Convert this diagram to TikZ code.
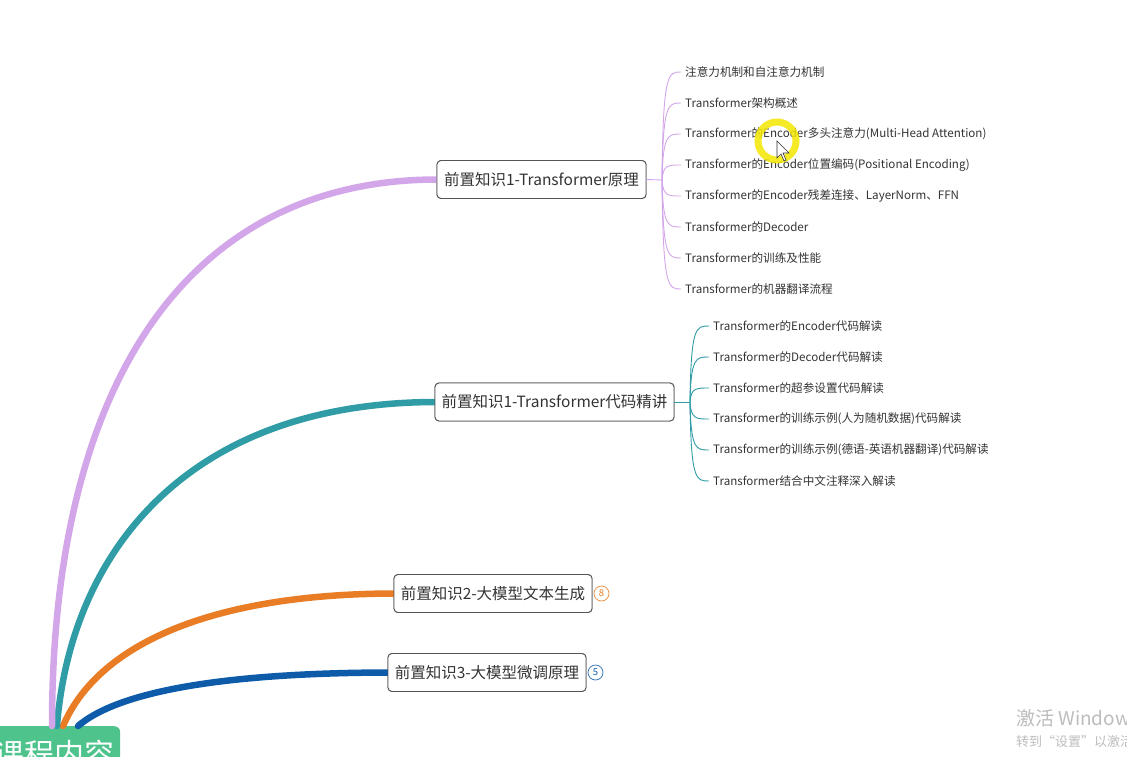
\documentclass[tikz,border=0pt]{standalone}
\usepackage{fontspec}
\setmainfont{Noto Sans CJK SC}
\definecolor{cPurple}{HTML}{D3A6EA}
\definecolor{cTeal}{HTML}{2F9CA6}
\definecolor{cOrange}{HTML}{E87D26}
\definecolor{cBlue}{HTML}{0E5BAA}
\definecolor{cGreen}{HTML}{4EC48C}
\definecolor{cText}{HTML}{333333}
\definecolor{cBorder}{HTML}{555555}
\definecolor{cWater}{HTML}{BDBDBD}
\begin{document}
\begin{tikzpicture}[x=1pt,y=-1pt,
  topic/.style={draw=cBorder, line width=0.9pt, rounded corners=4pt, fill=white,
    font=\fontsize{15.5}{18}\selectfont, text=cText, minimum height=38pt, inner sep=0pt},
  sub/.style={anchor=west, font=\fontsize{11.6}{14}\selectfont, text=cText, inner xsep=4pt, inner ysep=1pt},
  mainline/.style={line width=6.5pt, line cap=round},
  twig/.style={line width=0.9pt},
  badge/.style={circle, draw, line width=0.8pt, minimum size=15pt, inner sep=0pt, font=\fontsize{9.5}{10}\selectfont}]
\useasboundingbox (0,0) rectangle (1127,757);
\clip (0,0) rectangle (1127,757);
\fill[white] (0,0) rectangle (1127,757);

% root
\node[fill=cGreen, rounded corners=6pt, minimum width=140pt, minimum height=70pt, anchor=north west, inner sep=0pt] (root) at (-20,726) {};
\node[anchor=north west, text=white, font=\fontsize{30}{32}\selectfont, inner sep=0pt] (roottxt) at (-6,740) {课程内容};
\coordinate (sA) at (52,726);
\coordinate (sB) at (57,726);
\coordinate (sC) at (63,726);
\coordinate (sD) at (78,726);

% topics (positions)
\node[topic, minimum width=209pt] (A) at (541.5,179.5) {前置知识1-Transformer原理};
\node[topic, minimum width=239pt] (B) at (554.5,402) {前置知识1-Transformer代码精讲};
\node[topic, minimum width=198pt] (C) at (493,593.5) {前置知识2-大模型文本生成};
\node[topic, minimum width=198pt] (D) at (487,672.5) {前置知识3-大模型微调原理};
\node[badge, draw=cOrange!80, text=cOrange] (bC) at (601.5,593.5) {8};
\node[badge, draw=cBlue!80, text=cBlue] (bD) at (595.5,672.5) {5};

% main branches
\draw[mainline, cBlue] (sD) .. controls (120,690) and (230,673) .. (D.west);
\draw[mainline, cOrange] (sC) .. controls (100,640) and (220,594) .. (C.west);
\draw[mainline, cTeal] (sB) .. controls (70,560) and (180,403) .. (B.west);
\draw[mainline, cPurple] (sA) .. controls (52,380) and (190,180) .. (A.west);
% redraw topics on top of line ends
\node[topic, minimum width=209pt] at (541.5,179.5) {前置知识1-Transformer原理};
\node[topic, minimum width=239pt] at (554.5,402) {前置知识1-Transformer代码精讲};
\node[topic, minimum width=198pt] at (493,593.5) {前置知识2-大模型文本生成};
\node[topic, minimum width=198pt] at (487,672.5) {前置知识3-大模型微调原理};

% children of A
\coordinate (jA) at (662,180);
\draw[twig, cPurple] (A.east) -- (jA);
\foreach \y/\t [count=\i] in {
  72/注意力机制和自注意力机制,
  103/Transformer架构概述,
  134/Transformer的Encoder多头注意力(Multi-Head Attention),
  165/Transformer的Encoder位置编码(Positional Encoding),
  196/Transformer的Encoder残差连接、LayerNorm、FFN,
  227/Transformer的Decoder,
  258/Transformer的训练及性能,
  289/Transformer的机器翻译流程}{
  \node[sub] (a\i) at (681,\y) {\t};
  \draw[twig, cPurple] (jA) .. controls (663,\y) and (668,\y) .. (a\i.west);
}

% children of B
\coordinate (jB) at (690,402);
\draw[twig, cTeal] (B.east) -- (jB);
\foreach \y/\t [count=\i] in {
  326/Transformer的Encoder代码解读,
  357/Transformer的Decoder代码解读,
  388/Transformer的超参设置代码解读,
  419/Transformer的训练示例(人为随机数据)代码解读,
  450/Transformer的训练示例(德语-英语机器翻译)代码解读,
  481/Transformer结合中文注释深入解读}{
  \node[sub] (b\i) at (709,\y) {\t};
  \draw[twig, cTeal] (jB) .. controls (691,\y) and (696,\y) .. (b\i.west);
}

% cursor highlight
\draw[yellow!90!olive, line width=7pt, opacity=0.85] (777,141) circle (19pt);
\draw[fill=white, draw=black!80, line width=0.6pt] (777,141) -- (777,158) -- (781,154) -- (784,161) -- (786,160) -- (783,153) -- (789,153) -- cycle;

% watermark
\node[anchor=west, text=cWater, font=\fontsize{19}{21}\selectfont, inner sep=0pt] (w1) at (1016,718) {激活 Windows};
\node[anchor=west, text=cWater, font=\fontsize{13}{15}\selectfont, inner sep=0pt] (w2) at (1016,742) {转到“设置”以激活 Windows。};
\end{tikzpicture}
\end{document}
